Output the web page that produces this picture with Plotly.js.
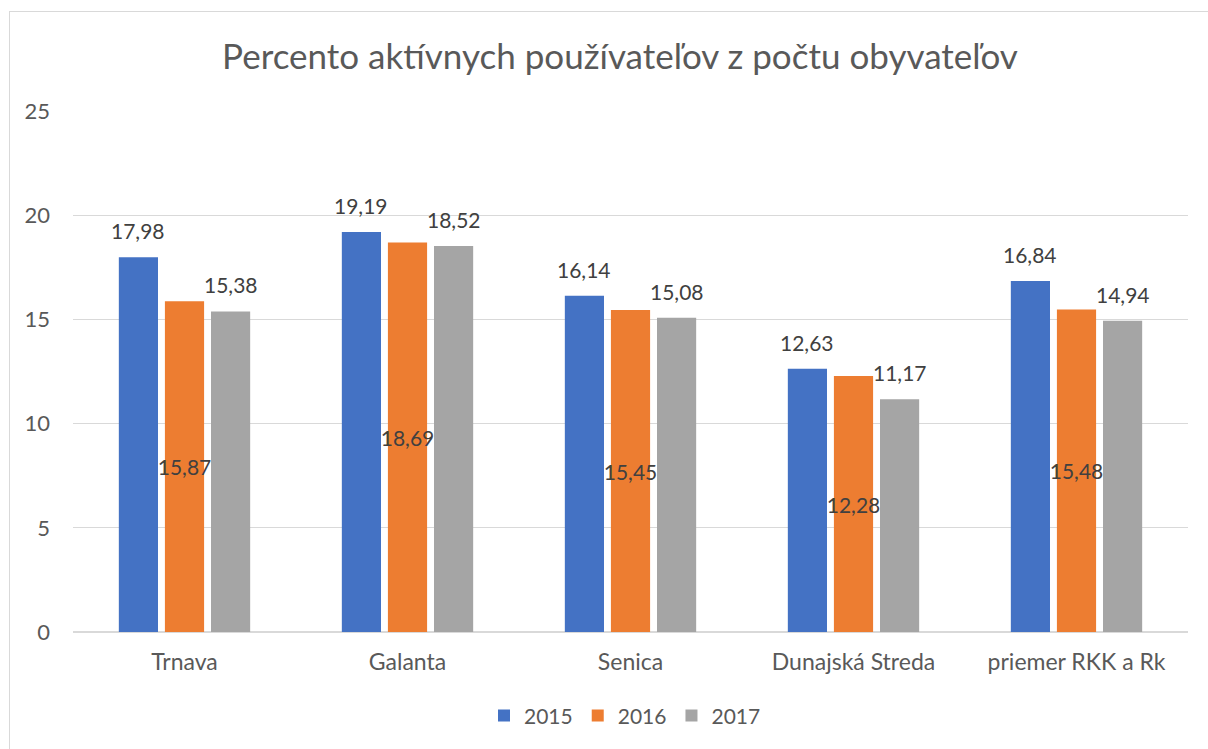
<!DOCTYPE html>
<html><head><meta charset="utf-8">
<script src="https://cdn.plot.ly/plotly-3.0.1.min.js"></script>
<style>
html,body{margin:0;padding:0;background:#fff;overflow:hidden;}
#chart{position:absolute;left:0;top:0;width:1208px;height:749px;}
#frame{position:absolute;left:9px;top:11px;width:1220px;height:760px;border:1px solid #d9d9d9;pointer-events:none;}
</style></head>
<body>
<div id="chart"></div>
<div id="frame"></div>
<script>
const categories = ["Trnava", "Galanta", "Senica", "Dunajská Streda", "priemer RKK a Rk"];
const years = ["2015", "2016", "2017"];
const v2015 = [17.98, 19.19, 16.14, 12.63, 16.84];
const v2016 = [15.87, 18.69, 15.45, 12.28, 15.48];
const v2017 = [15.38, 18.52, 15.08, 11.17, 14.94];
const yTicks = [0, 5, 10, 15, 20, 25];

const colors = ["#4472c4", "#ed7d31", "#a5a5a5"];
const fmt = v => v.toFixed(2).replace(".", ",");
const FONT = "Lato, Calibri, Carlito, sans-serif";
const LBL = {family: FONT, size: 21, color: "#404040"};
const BARGAP = 0.38;

function mk(name, vals, color, withText) {
  const t = {
    type: "bar", name: name, x: categories, y: vals,
    marker: {color: color},
    hoverinfo: "none"
  };
  if (withText) {
    Object.assign(t, {
      text: vals.map(fmt), textposition: "inside", textangle: 0,
      insidetextanchor: "middle", constraintext: "none",
      textfont: LBL, insidetextfont: LBL
    });
  }
  return t;
}

const data = [
  mk(years[0], v2015, colors[0], false),
  mk(years[1], v2016, colors[1], true),
  mk(years[2], v2017, colors[2], false)
];

// outside value labels for 2015 and 2017, placed above the bars
const slot = (1 - BARGAP) / 3;
const annotations = [];
[[v2015, -1], [v2017, 1]].forEach(([vals, k]) => {
  vals.forEach((v, i) => {
    annotations.push({
      x: i + k * slot, y: v, xref: "x", yref: "y",
      text: fmt(v), showarrow: false, yanchor: "bottom", xanchor: "center",
      yshift: 12, font: LBL
    });
  });
});

const layout = {
  width: 1208, height: 749,
  margin: {l: 73, r: 20, t: 110.5, b: 117, pad: 0},
  paper_bgcolor: "#fff", plot_bgcolor: "#fff",
  font: {family: FONT, color: "#595959", size: 20},
  title: {text: "Percento aktívnych používateľov z počtu obyvateľov",
          font: {family: FONT, size: 35, color: "#595959"},
          x: 620/1208, xref: "container", xanchor: "center",
          y: 1 - 57/749, yref: "container", yanchor: "middle"},
  barmode: "group", bargap: BARGAP, bargroupgap: 0.15,
  xaxis: {type: "category", showgrid: false, zeroline: false, showline: false,
          ticks: "", tickfont: {family: FONT, size: 23, color: "#595959"}, ticklabelstandoff: 14},
  yaxis: {range: [0, 25], tickvals: yTicks, ticktext: yTicks.map(String),
          showgrid: true, gridcolor: "#d9d9d9", gridwidth: 1.3, zeroline: true, zerolinecolor: "#d9d9d9", zerolinewidth: 1.3,
          showline: false, ticks: "", tickfont: {family: FONT, size: 22, color: "#595959"}, ticklabelstandoff: 22},
  annotations: annotations,
  showlegend: true,
  legend: {orientation: "h", x: (625-73)/1115, xanchor: "center", y: -(716-632)/521.5, yanchor: "middle",
           font: {family: FONT, size: 21, color: "#595959"}, itemwidth: 30, tracegroupgap: 0},
};

Plotly.newPlot("chart", data, layout, {displayModeBar: false, staticPlot: true});
</script>
</body></html>
